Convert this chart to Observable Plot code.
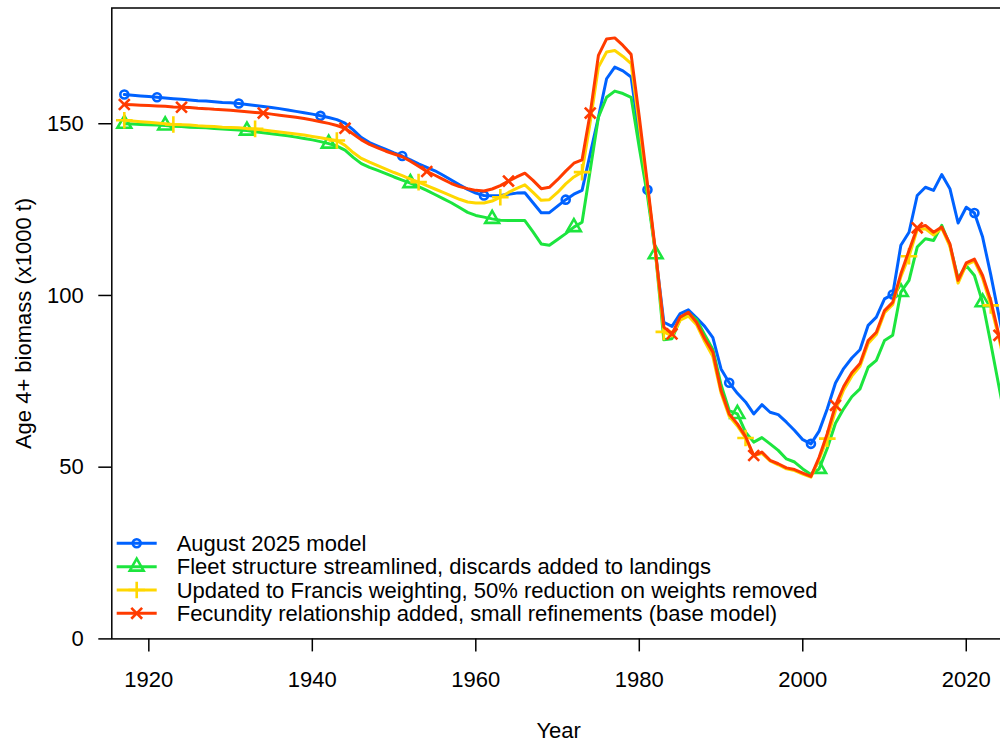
<!DOCTYPE html>
<html>
<head>
<meta charset="utf-8">
<script src="https://cdn.jsdelivr.net/npm/d3@7"></script>
<script src="https://cdn.jsdelivr.net/npm/@observablehq/plot@0.6"></script>
<style>
  html, body { margin: 0; padding: 0; background: #fff; overflow: hidden; }
  #chart { width: 1000px; height: 744px; }
</style>
</head>
<body>
<div id="chart"></div>
<script>
// ---------- data ----------
const years = d3.range(1917, 2026);

const seriesNames = [
  "August 2025 model",
  "Fleet structure streamlined, discards added to landings",
  "Updated to Francis weighting, 50% reduction on weights removed",
  "Fecundity relationship added, small refinements (base model)"
];

const seriesColors = ["#0062FF", "#1CE53E", "#FFD700", "#FF3B00"];

// Age 4+ biomass (x1000 t), 1917-2025
const aug2025 = [
  158.5,158.3,158.1,157.9,157.7,157.5,157.3,157.1,156.9,156.7,
  156.6,156.4,156.2,156.1,155.9,155.6,155.3,155.0,154.7,154.4,
  154.0,153.6,153.2,152.8,152.3,151.8,151.2,150.2,148.2,146.0,
  144.5,143.5,142.5,141.5,140.6,139.5,138.3,137.3,136.3,135.0,
  133.6,132.2,130.9,129.8,129.1,129.0,129.1,129.5,129.8,129.9,
  127.0,124.1,124.1,126.0,127.9,129.5,130.6,141.3,151.9,163.1,
  166.5,165.4,163.6,146.5,130.8,112.0,92.2,91.0,94.7,95.8,
  93.5,91.0,87.7,78.6,74.6,71.5,69.0,65.5,68.2,66.0,
  65.3,63.1,60.7,58.0,56.8,60.5,67.0,74.5,78.7,81.8,
  84.2,91.3,93.7,99.0,100.3,114.6,118.4,129.1,131.5,130.6,
  135.2,131.1,121.1,125.7,124.0,117.0,106.0,94.0,82.0
];

const fleet = [
  150.0,149.9,149.8,149.7,149.6,149.5,149.3,149.2,149.0,148.9,
  148.8,148.6,148.5,148.3,148.2,148.0,147.7,147.4,147.1,146.8,
  146.5,146.1,145.7,145.3,144.8,144.2,143.5,142.3,140.2,138.4,
  137.3,136.4,135.5,134.5,133.6,132.7,131.7,130.6,129.4,128.2,
  127.0,125.6,124.2,123.3,122.8,122.3,121.9,121.8,121.8,121.8,
  118.5,115.0,114.6,116.3,118.0,119.9,121.3,136.5,151.9,157.7,
  159.5,158.8,157.7,143.0,129.0,112.0,87.1,87.4,93.0,94.8,
  93.0,88.6,84.3,74.0,66.5,65.5,60.2,57.3,58.6,56.8,
  54.9,52.4,51.5,49.5,47.9,49.5,55.5,62.8,67.0,70.5,
  72.8,79.1,81.1,86.9,88.4,101.0,104.4,114.1,116.5,116.0,
  120.4,114.6,104.9,108.7,105.8,98.0,86.0,73.5,61.0
];

const francis = [
  151.0,150.8,150.6,150.4,150.2,150.0,149.8,149.7,149.6,149.4,
  149.3,149.2,149.0,148.9,148.8,148.6,148.5,148.2,147.9,147.6,
  147.3,147.0,146.7,146.3,145.9,145.5,145.1,143.7,141.6,139.9,
  138.8,137.8,136.8,135.8,134.9,133.9,133.0,132.0,131.0,130.0,
  129.0,128.0,127.2,126.9,126.9,127.5,128.6,130.0,131.2,132.2,
  130.0,127.7,127.9,130.0,132.5,134.5,135.9,150.5,166.5,170.9,
  171.3,169.6,167.5,149.5,131.5,112.0,89.4,88.2,92.8,94.0,
  91.5,86.6,82.2,71.6,64.8,62.0,58.5,53.4,54.0,51.8,
  50.7,49.5,49.0,48.0,47.1,52.3,58.3,66.5,72.5,76.5,
  79.4,86.0,88.6,95.0,97.3,105.5,111.4,119.2,119.4,117.6,
  119.6,114.3,103.6,109.0,110.0,105.0,97.1,87.5,77.0
];

const fecundity = [
  155.6,155.5,155.4,155.3,155.2,155.1,154.9,154.8,154.7,154.5,
  154.4,154.2,154.1,153.9,153.7,153.5,153.3,153.1,152.8,152.5,
  152.2,151.9,151.5,151.1,150.6,150.1,149.5,148.7,147.0,145.3,
  144.0,143.0,142.0,141.2,140.4,139.1,137.6,136.1,135.0,133.8,
  132.6,131.7,131.1,130.6,130.4,131.0,132.0,133.3,134.5,135.6,
  133.5,131.1,131.5,133.7,136.2,138.5,139.5,153.1,169.9,174.7,
  175.0,172.8,170.2,152.0,132.5,112.5,90.8,88.8,93.7,95.1,
  92.2,87.4,83.5,72.3,65.5,62.6,58.9,53.4,54.4,52.0,
  51.0,49.8,49.3,48.3,47.3,52.9,59.8,68.0,73.5,77.5,
  80.2,86.9,89.3,95.6,98.0,106.3,113.1,119.7,120.4,118.4,
  119.9,115.0,104.4,109.5,110.6,105.8,98.5,88.4,78.0
];

// years carrying a point symbol, per series
const markerYears = [
  [1917,1921,1931,1941,1951,1961,1971,1981,1991,2001,2011,2021],
  [1917,1922,1932,1942,1952,1962,1972,1982,1992,2002,2012,2022],
  [1917,1923,1933,1943,1953,1963,1973,1983,1993,2003,2013,2023],
  [1917,1924,1934,1944,1954,1964,1974,1984,1994,2004,2014,2024]
];

const xTicks = [1920, 1940, 1960, 1980, 2000, 2020];
const yTicks = [0, 50, 100, 150];

// ---------- build ----------
const seriesValues = [aug2025, fleet, francis, fecundity];
const plotSymbols = ["circle", "triangle2", "plus", "times"];
const d3Symbols = [d3.symbolCircle, d3.symbolTriangle2, d3.symbolPlus, d3.symbolTimes];
const symbolR = [4.0, 6.6, 5.4, 5.0];

const rows = [];
seriesNames.forEach((name, i) => {
  years.forEach((yr, j) => rows.push({series: name, idx: i, year: yr, value: seriesValues[i][j]}));
});

const FONT = "Liberation Sans, Arial, Helvetica, sans-serif";
const FS = 22;

const marks = [];
seriesNames.forEach((name, i) => {
  const d = rows.filter(r => r.idx === i);
  marks.push(Plot.line(d, {x: "year", y: "value", stroke: seriesColors[i], strokeWidth: 3, clip: true}));
  const m = d.filter(r => markerYears[i].includes(r.year));
  marks.push(Plot.dot(m, {
    x: "year", y: "value", symbol: plotSymbols[i], r: symbolR[i],
    stroke: seriesColors[i], strokeWidth: 2.6, fill: "none", clip: true
  }));
});

const chart = Plot.plot({
  width: 1000,
  height: 744,
  marginLeft: 111.3,
  marginRight: -5,
  marginTop: 7.5,
  marginBottom: 105.6,
  style: {fontFamily: FONT, fontSize: FS + "px", background: "#fff", color: "#000"},
  x: {domain: [1915.47, 2024.8]},
  y: {domain: [0, 183.7]},
  marks: [
    ...marks,
    Plot.frame({stroke: "#000", strokeWidth: 1.5}),
    Plot.axisX({ticks: xTicks, tickFormat: d => String(d), tickSize: 13, tickPadding: 19,
                label: null, strokeWidth: 1.5, fontSize: FS}),
    Plot.axisY({ticks: yTicks, tickFormat: d => String(d), tickSize: 13, tickPadding: 15,
                label: null, strokeWidth: 1.5, fontSize: FS}),
    Plot.text(["Year"], {frameAnchor: "bottom", dy: 91.6, text: d => d, fontSize: FS, fill: "#000",
                textAnchor: "middle", lineAnchor: "middle"}),
    Plot.text(["Age 4+ biomass (x1000 t)"], {frameAnchor: "left", dx: -88.3, rotate: -90,
                text: d => d, fontSize: FS, fill: "#000", textAnchor: "middle", lineAnchor: "middle"})
  ]
});

document.getElementById("chart").appendChild(chart);

// ---------- legend (inside plot, bottom-left) ----------
const svg = d3.select(chart);
const lg = svg.append("g").attr("font-family", FONT).attr("font-size", FS).attr("text-anchor", "start");
const legX0 = 116.7, legX1 = 156.7, legXm = 136.7, legXt = 176.7, legY0 = 543.3, legDy = 23.35;
seriesNames.forEach((name, i) => {
  const y = legY0 + i * legDy;
  lg.append("line").attr("x1", legX0).attr("x2", legX1).attr("y1", y).attr("y2", y)
    .attr("stroke", seriesColors[i]).attr("stroke-width", 3);
  lg.append("path").attr("transform", `translate(${legXm},${y})`)
    .attr("d", d3.symbol(d3Symbols[i], Math.PI * symbolR[i] * symbolR[i])())
    .attr("fill", "none").attr("stroke", seriesColors[i]).attr("stroke-width", 2.6);
  lg.append("text").attr("x", legXt).attr("y", y + 7.8).attr("fill", "#000")
    .attr("text-anchor", "start").text(name);
});
</script>
</body>
</html>
